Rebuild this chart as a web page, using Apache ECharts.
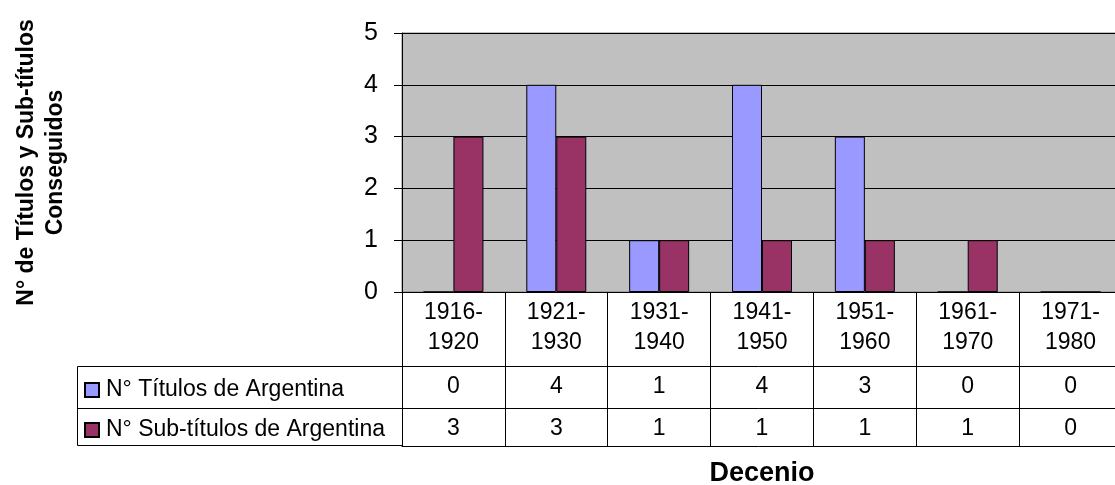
<!DOCTYPE html>
<html><head><meta charset="utf-8">
<script src="https://cdn.jsdelivr.net/npm/echarts@6/dist/echarts.min.js"></script>
<style>html,body{margin:0;padding:0;background:#fff}#c{width:1115px;height:485px}</style>
</head><body><div id="c"></div>
<script>
const categories = ['1916-\n1920', '1921-\n1930', '1931-\n1940', '1941-\n1950', '1951-\n1960', '1961-\n1970', '1971-\n1980'];
const titulos = [0, 4, 1, 4, 3, 0, 0];
const subtitulos = [3, 3, 1, 1, 1, 1, 0];
const seriesNames = ['N° Títulos de Argentina', 'N° Sub-títulos de Argentina'];
const yMin = 0, yMax = 5, yStep = 1;
const yTitle = 'N° de Títulos y Sub-títulos\nConseguidos';
const xTitle = 'Decenio';

const FONT = '"Liberation Sans", Arial, sans-serif';
const chart = echarts.init(document.getElementById('c'), null, {renderer: 'canvas'});
const rowAxis = (offset, tickLen, formatter, extra) => Object.assign({
  type: 'category', data: categories, position: 'bottom', offset: offset,
  axisLine: {show: true, lineStyle: {color: '#000', width: 1}},
  axisTick: {show: tickLen > 0, length: tickLen, interval: 0, lineStyle: {color: '#000'}},
  axisLabel: {show: !!formatter, interval: 0, formatter: formatter, color: '#000', fontFamily: FONT, fontSize: 23, lineHeight: 24, margin: 9},
  splitLine: {show: false}
}, extra || {});

chart.setOption({
  animation: false,
  backgroundColor: '#fff',
  textStyle: {fontFamily: FONT},
  grid: {left: 402, top: 33, width: 720, height: 259, show: true, backgroundColor: '#C0C0C0', borderColor: '#808080', borderWidth: 1, containLabel: false, outerBoundsMode: 'none'},
  legend: {
    data: seriesNames, orient: 'vertical', left: 84, top: 377, padding: 0, itemWidth: 14, itemHeight: 14, itemGap: 14,
    icon: 'rect', selectedMode: false,
    textStyle: {color: '#000', fontFamily: FONT, fontSize: 23, lineHeight: 26, padding: [0, 0, 0, 2]}
  },
  xAxis: [
    {
      type: 'category', data: categories, position: 'bottom',
      axisLine: {show: true, lineStyle: {color: '#000', width: 1}},
      axisTick: {show: true, length: 74, interval: 0, lineStyle: {color: '#000'}},
      axisLabel: {interval: 0, color: '#000', fontFamily: FONT, fontSize: 23, lineHeight: 30, margin: 6},
      splitLine: {show: false}
    },
    rowAxis(74, 42, (v, i) => String(titulos[i])),
    rowAxis(116, 38, (v, i) => String(subtitulos[i])),
    rowAxis(154, 0, null, {
      name: xTitle, nameLocation: 'middle', nameGap: 14,
      nameTextStyle: {color: '#000', fontFamily: FONT, fontSize: 27, fontWeight: 'bold', verticalAlign: 'top'}
    })
  ],
  yAxis: {
    type: 'value', min: yMin, max: yMax, interval: yStep,
    axisLine: {show: true, lineStyle: {color: '#000', width: 1}},
    axisTick: {show: true, length: 8, lineStyle: {color: '#000'}},
    axisLabel: {color: '#000', fontFamily: FONT, fontSize: 25, margin: 24},
    splitLine: {show: true, lineStyle: {color: '#000', width: 1}},
    name: yTitle, nameLocation: 'middle', nameRotate: 90, nameGap: 332,
    nameTextStyle: {color: '#000', fontFamily: FONT, fontSize: 23, fontWeight: 'bold', lineHeight: 29, align: 'center'}
  },
  graphic: [
    {type: 'rect', shape: {x: 77.5, y: 366.5, width: 325, height: 79}, style: {fill: 'none', stroke: '#000', lineWidth: 1}, z: 10},
    {type: 'line', shape: {x1: 77.5, y1: 408.5, x2: 402, y2: 408.5}, style: {stroke: '#000', lineWidth: 1}, z: 10}
  ],
  series: [
    {name: seriesNames[0], type: 'bar', data: titulos, barWidth: 30, barGap: '0%',
     itemStyle: {color: '#9999FF', borderColor: '#000', borderWidth: 1}},
    {name: seriesNames[1], type: 'bar', data: subtitulos, barWidth: 30, barGap: '0%',
     itemStyle: {color: '#993366', borderColor: '#000', borderWidth: 1}}
  ]
});
</script></body></html>
